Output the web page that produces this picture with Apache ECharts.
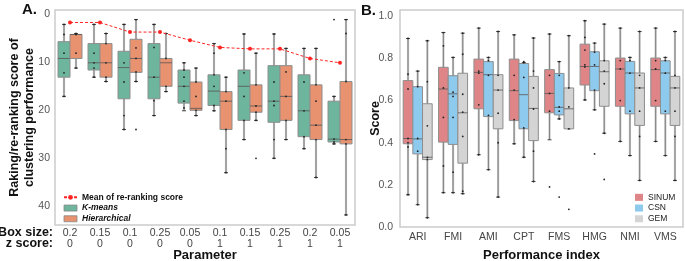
<!DOCTYPE html>
<html>
<head>
<meta charset="utf-8">
<script src="https://cdn.jsdelivr.net/npm/echarts@6/dist/echarts.min.js"></script>
<style>
  html, body { margin: 0; padding: 0; background: #fff; }
  #main { width: 685px; height: 261px; }
</style>
</head>
<body>
<div id="main"></div>
<script>
// ---- panel A: parameter sweep ----
const boxSizes = ["0.2", "0.15", "0.1", "0.25", "0.05", "0.1", "0.15", "0.25", "0.2", "0.05"];
const zScores = ["0", "0", "0", "0", "0", "1", "1", "1", "1", "1"];
const meanRerank = [1.7, 1.7, 3.7, 3.7, 5.4, 6.9, 7.2, 7.2, 9.2, 10.1];

// [min, q1, median, q3, max]
const kmeansBox = [
  [2.1, 5.7, 9.2, 13.1, 17.1],
  [2.1, 6.1, 10.1, 11.6, 13.1],
  [2.1, 7.7, 11.1, 17.6, 24],
  [2.1, 6.1, 13.1, 17.6, 21.1],
  [10.1, 11.6, 15, 18.5, 20.1],
  [6.1, 12.6, 16, 19, 20.1],
  [4.1, 11.6, 15, 22.1, 26.1],
  [4.1, 10.7, 18.1, 22.5, 30],
  [7.1, 12.6, 20.1, 25.5, 28],
  [17.1, 18.1, 26, 26.6, 27]
];
const hierBox = [
  [4, 4.2, 4.2, 9.2, 11.2],
  [4, 6.1, 10.1, 13.1, 14],
  [1.1, 5.2, 9.2, 12.1, 14],
  [4, 9.2, 10.1, 15, 16.1],
  [11.2, 14.1, 19.6, 20, 21.1],
  [13.1, 16.1, 18.1, 24, 33],
  [8.1, 14.7, 19.1, 20.4, 22.1],
  [7.1, 10.7, 17.1, 22.1, 26.1],
  [7.1, 14.7, 23.1, 26.1, 34],
  [1.1, 14, 26.1, 27, 41.8]
];
const kmeansDots = [
  [2.1, 4.2, 8.1, 12.2, 17.1],
  [2.1, 8.1, 10.1, 11.2, 13.1],
  [2.1, 10.1, 14.1, 21.1, 24],
  [2.1, 6.9, 13.1, 18, 21.1],
  [10.1, 11.6, 13.1, 15, 18.1, 19.5],
  [6.1, 8.1, 12.6, 15, 19, 20.1],
  [4.1, 12.2, 17.1, 22.1, 26.1],
  [4.1, 14.1, 18.1, 19, 26.1, 30],
  [7.1, 14.1, 20.1, 25.5, 28],
  [1.1, 17.1, 26, 26.6, 27]
];
const hierDots = [
  [4, 4.2, 8.1, 11.2],
  [4, 6.1, 10.1, 13.1, 14],
  [1.1, 7, 9.2, 12, 14, 24],
  [4, 9.2, 15, 16.1],
  [11.2, 14.1, 17.1, 20, 21.1],
  [13.1, 16.1, 18.1, 24, 28, 33],
  [8.1, 14.7, 19.1, 20.4, 22.1, 30],
  [7.1, 12, 17.1, 22.1, 26.1],
  [7.1, 14.7, 18.1, 23.1, 26.1, 34],
  [1.1, 4, 14, 26.1, 27, 41.8]
];

// ---- panel B: performance indices ----
const perfIndex = ["ARI", "FMI", "AMI", "CPT", "FMS", "HMG", "NMI", "VMS"];
const sinumBox = [
  [0.153, 0.395, 0.42, 0.695, 0.895],
  [0.163, 0.403, 0.655, 0.758, 0.923],
  [0.343, 0.561, 0.734, 0.797, 0.944],
  [0.395, 0.505, 0.647, 0.797, 0.912],
  [0.414, 0.542, 0.634, 0.747, 0.916],
  [0.603, 0.674, 0.762, 0.868, 0.979],
  [0.406, 0.573, 0.75, 0.802, 0.944],
  [0.406, 0.573, 0.747, 0.802, 0.944]
];
const csnBox = [
  [0.106, 0.347, 0.418, 0.666, 0.74],
  [0.163, 0.392, 0.632, 0.718, 0.805],
  [0.272, 0.524, 0.723, 0.785, 0.805],
  [0.331, 0.466, 0.628, 0.776, 0.781],
  [0.513, 0.532, 0.568, 0.729, 0.785],
  [0.556, 0.647, 0.762, 0.832, 0.873],
  [0.339, 0.537, 0.731, 0.786, 0.805],
  [0.339, 0.537, 0.731, 0.789, 0.805]
];
const gemBox = [
  [0.044, 0.32, 0.331, 0.585, 0.884],
  [0.158, 0.303, 0.542, 0.73, 0.92],
  [0.142, 0.466, 0.65, 0.723, 0.928],
  [0.216, 0.41, 0.563, 0.715, 0.897],
  [0.466, 0.466, 0.561, 0.66, 0.908],
  [0.445, 0.573, 0.737, 0.789, 0.963],
  [0.221, 0.482, 0.66, 0.731, 0.928],
  [0.221, 0.482, 0.66, 0.715, 0.928]
];
const sinumDots = [
  [0.895, 0.725, 0.655, 0.42, 0.4, 0.38, 0.153],
  [0.923, 0.86, 0.66, 0.52, 0.29, 0.163],
  [0.944, 0.74, 0.73, 0.58, 0.343],
  [0.912, 0.72, 0.65, 0.51, 0.395],
  [0.916, 0.72, 0.634, 0.55, 0.19],
  [0.979, 0.9, 0.84, 0.77, 0.76, 0.603],
  [0.944, 0.79, 0.75, 0.6, 0.406],
  [0.944, 0.79, 0.75, 0.6, 0.406]
];
const csnDots = [
  [0.74, 0.666, 0.42, 0.36, 0.106],
  [0.805, 0.64, 0.62, 0.52, 0.26, 0.163],
  [0.805, 0.79, 0.72, 0.53, 0.272],
  [0.785, 0.78, 0.71, 0.47, 0.331],
  [0.785, 0.72, 0.57, 0.55, 0.513, 0.142],
  [0.873, 0.83, 0.77, 0.65, 0.556, 0.347],
  [0.805, 0.79, 0.73, 0.55, 0.339],
  [0.805, 0.79, 0.73, 0.55, 0.339]
];
const gemDots = [
  [0.884, 0.69, 0.48, 0.33, 0.32, 0.044],
  [0.92, 0.82, 0.63, 0.545, 0.43, 0.17, 0.158],
  [0.928, 0.72, 0.65, 0.54, 0.4, 0.142],
  [0.897, 0.74, 0.66, 0.56, 0.36, 0.216],
  [0.908, 0.66, 0.57, 0.466, 0.084],
  [0.963, 0.79, 0.74, 0.68, 0.445, 0.226],
  [0.928, 0.72, 0.66, 0.55, 0.43, 0.221],
  [0.928, 0.72, 0.66, 0.55, 0.43, 0.221]
];

const FONT = "Liberation Sans, Arial, sans-serif";

// box rows -> [catIndex, min, q1, med, q3, max]
const toRows = (boxes) => boxes.map((b, i) => [i].concat(b));
const toDots = (dots) => dots.flatMap((vals, i) => vals.map(v => [i, v]));

function slotCenter(api, i, slot, nSlots, frac) {
  const band = api.size([1, 0])[0];
  const w = band * frac / nSlots;
  const cx = api.coord([i, 0])[0] - band * frac / 2 + w * (slot + 0.5);
  return { cx, w };
}

function boxRender(slot, nSlots, frac, fill) {
  return function (params, api) {
    const i = api.value(0);
    const { cx, w } = slotCenter(api, i, slot, nSlots, frac);
    const y = (k) => api.coord([i, api.value(k)])[1];
    const yMin = y(1), yQ1 = y(2), yMed = y(3), yQ3 = y(4), yMax = y(5);
    const cap = 2;
    return {
      type: "group",
      children: [
        { type: "line", shape: { x1: cx, y1: yMin, x2: cx, y2: yMax }, style: { stroke: "#c6c6c6", lineWidth: 2.2 } },
        { type: "line", shape: { x1: cx, y1: yMin, x2: cx, y2: yMax }, style: { stroke: "#555", lineWidth: 0.6 } },
        { type: "line", shape: { x1: cx - cap, y1: yMin, x2: cx + cap, y2: yMin }, style: { stroke: "#333", lineWidth: 0.9 } },
        { type: "line", shape: { x1: cx - cap, y1: yMax, x2: cx + cap, y2: yMax }, style: { stroke: "#333", lineWidth: 0.9 } },
        {
          type: "rect",
          shape: { x: cx - w / 2, y: Math.min(yQ1, yQ3), width: w, height: Math.abs(yQ3 - yQ1) },
          style: { fill: fill, stroke: "#8e8e8e", lineWidth: 1 }
        },
        { type: "line", shape: { x1: cx - w / 2, y1: yMed, x2: cx + w / 2, y2: yMed }, style: { stroke: "#555", lineWidth: 0.8 } }
      ]
    };
  };
}

function dotRender(slot, nSlots, frac) {
  return function (params, api) {
    const i = api.value(0);
    const { cx } = slotCenter(api, i, slot, nSlots, frac);
    const cy = api.coord([i, api.value(1)])[1];
    return { type: "circle", shape: { cx: cx, cy: cy, r: 0.9 }, style: { fill: "#222" } };
  };
}

function boxSeries(name, axis, rows, slot, nSlots, frac, fill) {
  return {
    name: name,
    type: "custom",
    xAxisIndex: axis,
    yAxisIndex: axis,
    itemStyle: { color: fill },
    renderItem: boxRender(slot, nSlots, frac, fill),
    encode: { x: 0, y: [1, 2, 3, 4, 5] },
    data: rows,
    z: 2
  };
}

function dotSeries(name, axis, pts, slot, nSlots, frac) {
  return {
    name: name,
    type: "custom",
    xAxisIndex: axis,
    yAxisIndex: axis,
    renderItem: dotRender(slot, nSlots, frac),
    encode: { x: 0, y: 1 },
    data: pts,
    z: 3
  };
}

const GREEN = "#6db59c", ORANGE = "#e8926f";
const RED = "#e08587", BLUE = "#8ecaee", GREY = "#d4d4d4";

const chart = echarts.init(document.getElementById("main"));

const option = {
  animation: false,
  textStyle: { fontFamily: FONT },
  grid: [
    { left: 55, top: 10, width: 300, height: 215, show: true, borderColor: "#cbcbcb", borderWidth: 1.5, outerBoundsMode: "none", containLabel: false },
    { left: 400, top: 10, width: 283, height: 217, show: true, borderColor: "#cbcbcb", borderWidth: 1.5, outerBoundsMode: "none", containLabel: false }
  ],
  legend: [
    {
      left: 63, top: 192, orient: "vertical",
      itemWidth: 13, itemHeight: 6, itemGap: 0,
      padding: 0,
      selectedMode: false,
      data: [
        { name: "Mean of re-ranking score" },
        { name: "K-means", icon: "rect", itemStyle: { borderColor: "#888", borderWidth: 0.8 } },
        { name: "Hierarchical", icon: "rect", itemStyle: { borderColor: "#888", borderWidth: 0.8 } }
      ],
      formatter: (n) => (n === "Mean of re-ranking score" ? n : "{it|" + n + "}"),
      textStyle: {
        fontFamily: FONT, fontSize: 8.5, fontWeight: "bold", color: "#111", lineHeight: 10.7,
        rich: { it: { fontFamily: FONT, fontSize: 8.5, fontWeight: "bold", fontStyle: "italic", color: "#111", lineHeight: 10.7 } }
      }
    },
    {
      left: 635, top: 192, orient: "vertical",
      itemWidth: 8, itemHeight: 7, itemGap: 0,
      padding: 0,
      selectedMode: false,
      icon: "rect",
      data: ["SINUM", "CSN", "GEM"],
      textStyle: { fontFamily: FONT, fontSize: 8.5, color: "#222", lineHeight: 10.7 }
    }
  ],
  xAxis: [
    {
      gridIndex: 0,
      type: "category",
      data: boxSizes.map((b, i) => b + "\n" + zScores[i]),
      axisTick: { show: false },
      axisLine: { show: false },
      axisLabel: { fontSize: 10.5, color: "#444", lineHeight: 11, margin: 3, interval: 0 },
      name: "Parameter",
      nameLocation: "middle",
      nameGap: 24,
      nameMoveOverlap: false,
      nameTextStyle: { fontSize: 13, fontWeight: "bold", color: "#111" }
    },
    {
      gridIndex: 1,
      type: "category",
      data: perfIndex,
      axisTick: { show: false },
      axisLine: { show: false },
      axisLabel: { fontSize: 10.5, color: "#444", margin: 5, interval: 0 },
      name: "Performance index",
      nameLocation: "middle",
      nameGap: 22,
      nameMoveOverlap: false,
      nameTextStyle: { fontSize: 13, fontWeight: "bold", color: "#111" }
    }
  ],
  yAxis: [
    {
      gridIndex: 0,
      type: "value",
      inverse: true,
      min: -0.9,
      max: 43.9,
      splitLine: { show: false },
      axisTick: { show: false },
      axisLine: { show: false },
      axisLabel: {
        fontSize: 10.5, color: "#555", margin: 5,
        formatter: (v) => (Math.abs(v % 10) < 1e-6 ? String(v) : "")
      },
      name: "Raking/re-ranking score of\nclustering performance",
      nameLocation: "middle",
      nameRotate: 90,
      nameGap: 18,
      nameMoveOverlap: false,
      nameTextStyle: { fontSize: 12.5, fontWeight: "bold", color: "#111", lineHeight: 15 }
    },
    {
      gridIndex: 1,
      type: "value",
      min: 0,
      max: 1.03,
      interval: 0.2,
      splitLine: { show: false },
      axisTick: { show: false },
      axisLine: { show: false },
      axisLabel: {
        fontSize: 10.5, color: "#555", margin: 7,
        formatter: (v) => (Math.abs(v * 5 - Math.round(v * 5)) < 1e-6 ? v.toFixed(1) : "")
      },
      name: "Score",
      nameLocation: "middle",
      nameRotate: 90,
      nameGap: 18,
      nameMoveOverlap: false,
      nameTextStyle: { fontSize: 12.5, fontWeight: "bold", color: "#111" }
    }
  ],
  graphic: [
    { type: "text", left: 22, top: 2, style: { text: "A.", font: "bold 15px " + FONT, fill: "#111" } },
    { type: "text", left: 361, top: 3, style: { text: "B.", font: "bold 15px " + FONT, fill: "#111" } },
    { type: "text", x: 53, y: 233, style: { text: "Box size:", font: "bold 12.5px " + FONT, fill: "#111", align: "right", verticalAlign: "middle" } },
    { type: "text", x: 53, y: 244, style: { text: "z score:", font: "bold 12.5px " + FONT, fill: "#111", align: "right", verticalAlign: "middle" } }
  ],
  series: [
    boxSeries("K-means", 0, toRows(kmeansBox), 0, 2, 0.8, GREEN),
    boxSeries("Hierarchical", 0, toRows(hierBox), 1, 2, 0.8, ORANGE),
    dotSeries("km-dots", 0, toDots(kmeansDots), 0, 2, 0.8),
    dotSeries("hc-dots", 0, toDots(hierDots), 1, 2, 0.8),
    {
      name: "Mean of re-ranking score",
      type: "line",
      xAxisIndex: 0,
      yAxisIndex: 0,
      data: meanRerank,
      symbol: "circle",
      symbolSize: 4,
      itemStyle: { color: "#ff2424" },
      lineStyle: { color: "#ff2424", width: 1, type: [3, 2] },
      z: 4
    },
    boxSeries("SINUM", 1, toRows(sinumBox), 0, 3, 0.82, RED),
    boxSeries("CSN", 1, toRows(csnBox), 1, 3, 0.82, BLUE),
    boxSeries("GEM", 1, toRows(gemBox), 2, 3, 0.82, GREY),
    dotSeries("sinum-dots", 1, toDots(sinumDots), 0, 3, 0.82),
    dotSeries("csn-dots", 1, toDots(csnDots), 1, 3, 0.82),
    dotSeries("gem-dots", 1, toDots(gemDots), 2, 3, 0.82)
  ]
};

chart.setOption(option);
</script>
</body>
</html>
